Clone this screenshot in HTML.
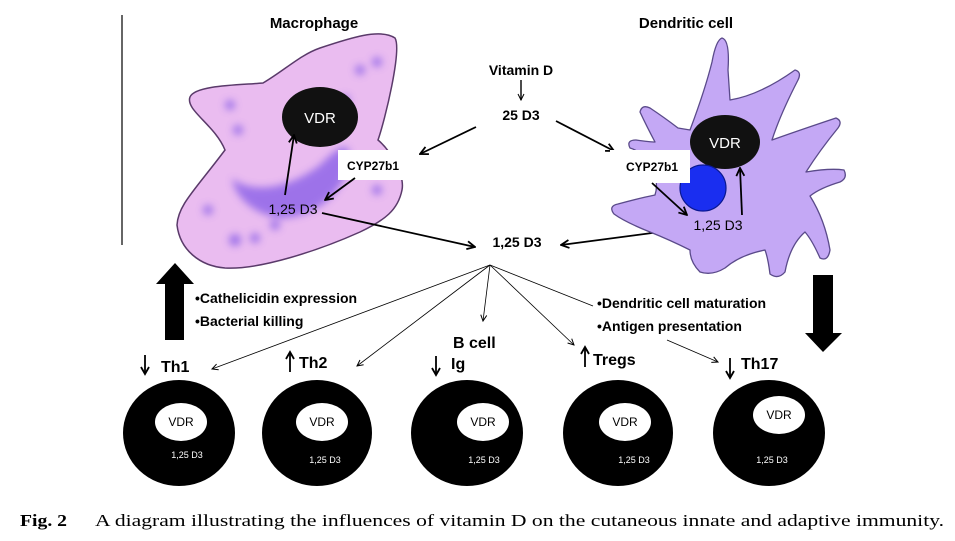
<!DOCTYPE html>
<html><head><meta charset="utf-8"><style>
html,body{margin:0;padding:0;background:#fff;}
svg{display:block;}
text{font-family:"Liberation Sans","DejaVu Sans",sans-serif;}
.b{font-weight:bold;}
</style></head><body>
<svg width="955" height="541" viewBox="0 0 955 541" xmlns="http://www.w3.org/2000/svg">
<defs>
<marker id="ah" markerWidth="10" markerHeight="10" refX="9" refY="5" orient="auto" markerUnits="userSpaceOnUse"><path d="M1,1 L9,5 L1,9" fill="none" stroke="#000" stroke-width="1.8"/></marker>
<marker id="as" markerWidth="8" markerHeight="8" refX="7" refY="4" orient="auto" markerUnits="userSpaceOnUse"><path d="M1,1 L7,4 L1,7" fill="none" stroke="#000" stroke-width="1"/></marker>
<marker id="am" markerWidth="10" markerHeight="10" refX="8" refY="5" orient="auto" markerUnits="userSpaceOnUse"><path d="M1,1 L8,5 L1,9" fill="none" stroke="#000" stroke-width="1.8"/></marker>
<filter id="bl"><feGaussianBlur stdDeviation="4"/></filter>
</defs>
<line x1="122" y1="15" x2="122" y2="245" stroke="#000" stroke-width="1.2"/>
<text x="314" y="28" font-size="15" class="b" text-anchor="middle">Macrophage</text>
<text x="686" y="28" font-size="15" class="b" text-anchor="middle">Dendritic cell</text>

<!-- macrophage -->
<path d="M190,97 C195,85 240,85 263,83 C285,70 300,55 320,48 C350,38 380,28 395,38 C402,50 385,120 378,140 C390,150 405,175 402,190 C398,210 385,220 360,232 C320,250 260,270 225,268 C200,266 180,250 177,225 C178,205 195,190 225,150 C215,125 185,110 190,97 Z" fill="#eabcf0" stroke="#5a3a6a" stroke-width="1.5"/>
<g filter="url(#bl)" fill="#8a60e8" opacity="0.8">
<path d="M232,178 C245,190 280,195 320,165 C340,145 350,140 350,160 C345,190 320,215 285,218 C260,218 235,200 232,178 Z"/>
<circle cx="230" cy="105" r="5"/><circle cx="238" cy="130" r="5"/><circle cx="360" cy="70" r="5"/><circle cx="377" cy="62" r="5"/>
<circle cx="208" cy="210" r="5"/><circle cx="235" cy="240" r="6"/><circle cx="255" cy="238" r="5"/><circle cx="377" cy="190" r="5"/><circle cx="345" cy="100" r="5"/><circle cx="275" cy="225" r="5"/>
</g>
<ellipse cx="320" cy="117" rx="38" ry="30" fill="#111"/>
<text x="320" y="123" font-size="15" fill="#fff" text-anchor="middle">VDR</text>
<rect x="338" y="150" width="72" height="30" fill="#fff"/>
<text x="373" y="170" font-size="12" class="b" text-anchor="middle">CYP27b1</text>
<text x="293" y="214" font-size="14" text-anchor="middle">1,25 D3</text>
<line x1="285" y1="195" x2="294" y2="135" stroke="#000" stroke-width="1.8" marker-end="url(#ah)"/>
<line x1="355" y1="178" x2="325" y2="200" stroke="#000" stroke-width="1.8" marker-end="url(#ah)"/>
<line x1="322" y1="213" x2="475" y2="247" stroke="#000" stroke-width="1.8" marker-end="url(#ah)"/>

<!-- center -->
<text x="521" y="75" font-size="14" class="b" text-anchor="middle">Vitamin D</text>
<line x1="521" y1="80" x2="521" y2="100" stroke="#000" stroke-width="1.4" marker-end="url(#as)"/>
<text x="521" y="120" font-size="14" class="b" text-anchor="middle">25 D3</text>
<line x1="476" y1="127" x2="420" y2="154" stroke="#000" stroke-width="1.8" marker-end="url(#ah)"/>
<line x1="556" y1="121" x2="614" y2="151" stroke="#000" stroke-width="1.8" marker-end="url(#ah)"/>
<text x="517" y="247" font-size="14" class="b" text-anchor="middle">1,25 D3</text>
<line x1="690" y1="228" x2="561" y2="245" stroke="#000" stroke-width="1.8" marker-end="url(#ah)"/>

<!-- dendritic -->
<path d="M690,130 Q705,90 712,62 Q716,40 722,38 Q730,40 728,70 L730,100 Q760,95 795,70 Q802,72 798,80 Q780,115 772,140 Q800,130 836,118 Q843,121 838,128 Q820,150 806,172 Q830,168 844,170 Q848,178 840,182 Q820,188 810,196 Q825,220 830,250 Q828,262 820,258 Q812,240 805,232 Q790,245 785,272 Q778,280 770,274 Q768,258 765,250 Q740,255 725,268 Q712,276 700,272 Q690,262 690,250 Q670,240 650,232 Q625,222 614,214 Q608,206 618,204 Q640,198 655,195 Q660,180 648,160 Q638,150 630,148 Q626,140 636,140 Q650,142 655,142 Q646,125 640,112 Q642,104 650,108 Q665,118 678,128 Z" fill="#c4a8f5" stroke="#5a4a8a" stroke-width="1.3" stroke-linejoin="round"/>
<ellipse cx="725" cy="142" rx="35" ry="27" fill="#111"/>
<text x="725" y="148" font-size="15" fill="#fff" text-anchor="middle">VDR</text>
<circle cx="703" cy="188" r="23" fill="#1a2ef0" stroke="#0a1890" stroke-width="1.2"/>
<rect x="610" y="150" width="80" height="33" fill="#fff"/>
<text x="652" y="171" font-size="12" class="b" text-anchor="middle">CYP27b1</text>
<text x="718" y="230" font-size="14" text-anchor="middle">1,25 D3</text>
<line x1="652" y1="183" x2="687" y2="215" stroke="#000" stroke-width="1.8" marker-end="url(#ah)"/>
<line x1="742" y1="215" x2="740" y2="168" stroke="#000" stroke-width="1.8" marker-end="url(#ah)"/>

<!-- big arrows -->
<path d="M175,263 L194,284 L184,284 L184,340 L165,340 L165,284 L156,284 Z" fill="#000"/>
<path d="M813,275 L833,275 L833,333 L842,333 L823,352 L805,333 L813,333 Z" fill="#000"/>

<text x="195" y="303" font-size="14" class="b">•Cathelicidin expression</text>
<text x="195" y="326" font-size="14" class="b">•Bacterial killing</text>
<text x="597" y="308" font-size="14" class="b">•Dendritic cell maturation</text>
<text x="597" y="331" font-size="14" class="b">•Antigen presentation</text>

<!-- fan -->
<g stroke="#000" stroke-width="0.8" fill="none">
<line x1="490" y1="265" x2="212" y2="369" marker-end="url(#as)"/>
<line x1="490" y1="265" x2="357" y2="366" marker-end="url(#as)"/>
<line x1="490" y1="265" x2="483" y2="321" marker-end="url(#as)"/>
<line x1="490" y1="265" x2="574" y2="345" marker-end="url(#as)"/>
<line x1="490" y1="265" x2="593" y2="306"/>
<line x1="667" y1="340" x2="718" y2="362" marker-end="url(#as)"/>
</g>

<!-- small arrows -->
<g stroke="#000" stroke-width="1.8" fill="none">
<line x1="145" y1="355" x2="145" y2="374" marker-end="url(#am)"/>
<line x1="290" y1="372" x2="290" y2="352" marker-end="url(#am)"/>
<line x1="436" y1="356" x2="436" y2="375" marker-end="url(#am)"/>
<line x1="585" y1="367" x2="585" y2="347" marker-end="url(#am)"/>
<line x1="730" y1="358" x2="730" y2="378" marker-end="url(#am)"/>
</g>
<g font-size="16" class="b">
<text x="161" y="372">Th1</text>
<text x="299" y="368">Th2</text>
<text x="453" y="348">B cell</text>
<text x="451" y="369">Ig</text>
<text x="593" y="365">Tregs</text>
<text x="741" y="369">Th17</text>
</g>

<!-- T cells -->
<g fill="#000">
<ellipse cx="179" cy="433" rx="56" ry="53"/>
<ellipse cx="317" cy="433" rx="55" ry="53"/>
<ellipse cx="467" cy="433" rx="56" ry="53"/>
<ellipse cx="618" cy="433" rx="55" ry="53"/>
<ellipse cx="769" cy="433" rx="56" ry="53"/>
</g>
<g fill="#fff">
<ellipse cx="181" cy="422" rx="26" ry="19"/>
<ellipse cx="322" cy="422" rx="26" ry="19"/>
<ellipse cx="483" cy="422" rx="26" ry="19"/>
<ellipse cx="625" cy="422" rx="26" ry="19"/>
<ellipse cx="779" cy="415" rx="26" ry="19"/>
</g>
<g font-size="12" text-anchor="middle">
<text x="181" y="426">VDR</text><text x="322" y="426">VDR</text><text x="483" y="426">VDR</text><text x="625" y="426">VDR</text><text x="779" y="419">VDR</text>
</g>
<g font-size="9" fill="#fff" text-anchor="middle">
<text x="187" y="458">1,25 D3</text><text x="325" y="463">1,25 D3</text><text x="484" y="463">1,25 D3</text><text x="634" y="463">1,25 D3</text><text x="772" y="463">1,25 D3</text>
</g>

<text x="20" y="526" font-size="17" style="font-family:'Liberation Serif',serif" font-weight="bold" textLength="47" lengthAdjust="spacingAndGlyphs">Fig. 2</text>
<text x="95" y="526" font-size="17" style="font-family:'Liberation Serif',serif" textLength="849" lengthAdjust="spacingAndGlyphs">A diagram illustrating the influences of vitamin D on the cutaneous innate and adaptive immunity.</text>
</svg>
</body></html>
